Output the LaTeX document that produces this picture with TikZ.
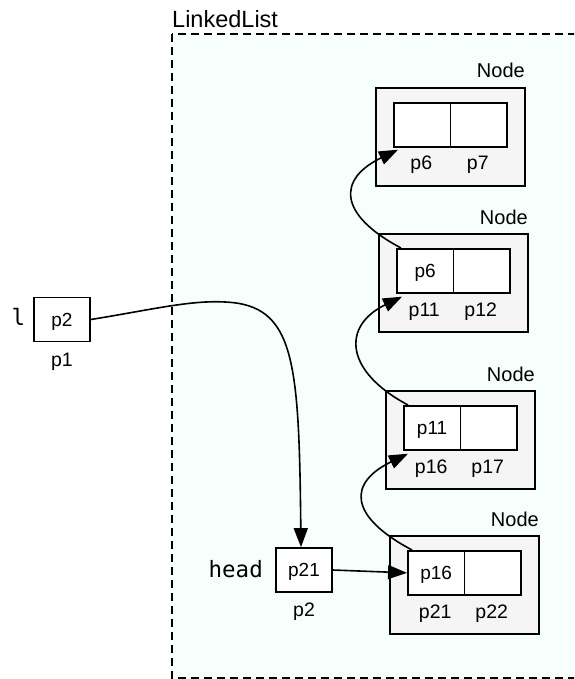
\documentclass[tikz,border=0pt]{standalone}
\usepackage{fontspec}
\setmainfont{Liberation Sans}
\newfontfamily\monof{DejaVu Sans Mono}
\usetikzlibrary{arrows.meta}
\definecolor{llbg}{RGB}{247,255,253}
\definecolor{nodegray}{RGB}{245,245,245}
\begin{document}
\begin{tikzpicture}[x=1pt,y=-1pt,
  llbox/.style={draw=black, fill=llbg, line width=1.5pt, dash pattern=on 8pt off 5pt},
  outer/.style={draw, fill=nodegray, line width=1.7pt, minimum width=149pt, minimum height=98pt, anchor=north west, inner sep=0pt},
  cell/.style={draw, fill=white, line width=1.7pt, minimum width=56.5pt, minimum height=44pt, anchor=north west, inner sep=0pt, text depth=0pt, font=\fontsize{19}{21}\selectfont},
  ptr/.style={draw, fill=white, line width=1.7pt, minimum width=56pt, minimum height=44pt, inner sep=0pt, text depth=0pt, font=\fontsize{19}{21}\selectfont},
  sub/.style={anchor=base, inner sep=0pt, font=\fontsize{19.5}{21}\selectfont},
  nlab/.style={anchor=base east, inner sep=0pt, font=\fontsize{20}{22}\selectfont},
  varlab/.style={inner sep=0pt, font=\monof\fontsize{22.5}{24}\selectfont},
  conn/.style={line width=1.6pt, -{Triangle[length=19pt,width=14pt]}}
]
\useasboundingbox (0,0) rectangle (574,679);
\fill[white] (0,0) rectangle (574,679);
\begin{scope}
  \clip (0,0) rectangle (574,679);
  \draw[llbox] (172,34) rectangle (640,678);
\end{scope}
\node[anchor=base west, inner sep=0pt, font=\fontsize{23.5}{26}\selectfont] (lltitle) at (172,28) {LinkedList};

% Node 1
\node[outer] (n1) at (375,87) {};
\node[cell] (n1a) at (393,102) {};
\node[cell] (n1b) at (449.5,102) {};
\node[sub] (n1la) at (421.25,170) {p6};
\node[sub] (n1lb) at (477.75,170) {p7};
\node[nlab] (n1t) at (525,78) {Node};

% Node 2
\node[outer] (n2) at (378,233) {};
\node[cell] (n2a) at (396,248) {p6};
\node[cell] (n2b) at (452.5,248) {};
\node[sub] (n2la) at (424.25,316) {p11};
\node[sub] (n2lb) at (480.75,316) {p12};
\node[nlab] (n2t) at (528,224) {Node};

% Node 3
\node[outer] (n3) at (385,390) {};
\node[cell] (n3a) at (403,405) {p11};
\node[cell] (n3b) at (459.5,405) {};
\node[sub] (n3la) at (431.25,473) {p16};
\node[sub] (n3lb) at (487.75,473) {p17};
\node[nlab] (n3t) at (535,381) {Node};

% Node 4
\node[outer] (n4) at (389,535) {};
\node[cell] (n4a) at (407,550) {p16};
\node[cell] (n4b) at (463.5,550) {};
\node[sub] (n4la) at (435.25,618) {p21};
\node[sub] (n4lb) at (491.75,618) {p22};
\node[nlab] (n4t) at (539,526) {Node};

% variable l
\node[ptr] (bl) at (62,319.5) {p2};
\node[sub] (bllab) at (62,366) {p1};
\node[varlab, anchor=base] (lname) at (18.5,325) {l};

% variable head
\node[ptr] (bh) at (304,570) {p21};
\node[sub] (bhlab) at (304,616) {p2};
\node[varlab, anchor=base east] (hname) at (263,577) {head};

% connectors
\draw[conn] (bl.east) .. controls (150,310) and (190,300) .. (225,302)
  .. controls (295,305) and (299,360) .. ([xshift=-3pt]bh.north);
\draw[conn] (bh.east) -- (n4a.west);
\draw[conn] ([xshift=5pt]n4a.north west) .. controls +(-64,-34) and +(-60,29) .. ([xshift=5pt,yshift=-3pt]n3a.south west);
\draw[conn] ([xshift=5pt]n3a.north west) .. controls +(-64,-34) and +(-60,29) .. ([xshift=6pt,yshift=-3pt]n2a.south west);
\draw[conn] ([xshift=5pt]n2a.north west) .. controls +(-64,-34) and +(-60,29) .. ([xshift=5pt,yshift=-2pt]n1a.south west);
\end{tikzpicture}
\end{document}
